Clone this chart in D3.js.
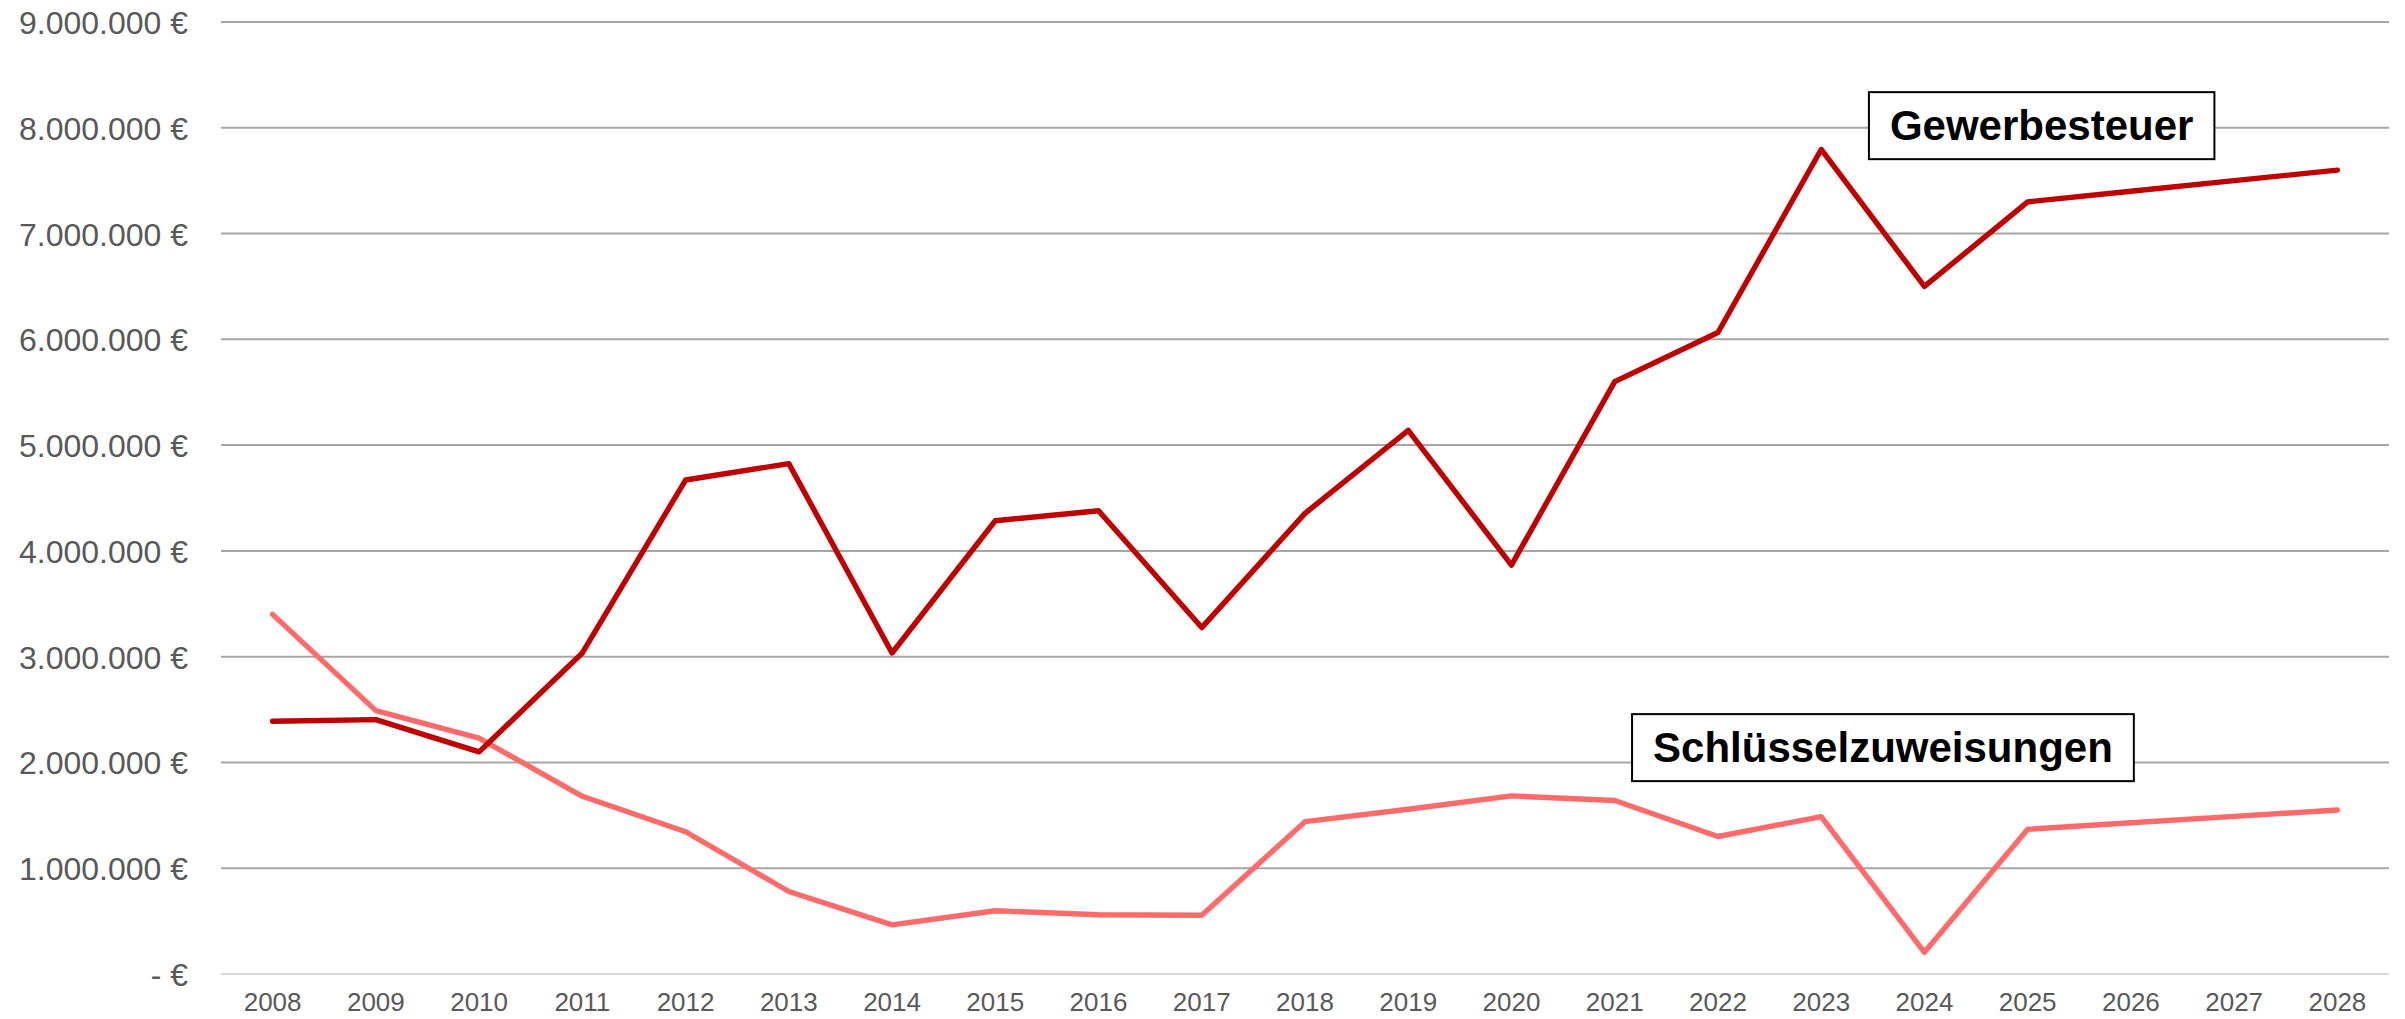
<!DOCTYPE html>
<html>
<head>
<meta charset="utf-8">
<script src="https://cdn.jsdelivr.net/npm/d3@7"></script>
<style>
  html, body { margin: 0; padding: 0; background: #ffffff; }
  svg { display: block; }
</style>
</head>
<body>
<div id="chart"></div>
<script>
// ---- data ----
const years = ["2008","2009","2010","2011","2012","2013","2014","2015","2016","2017","2018","2019","2020","2021","2022","2023","2024","2025","2026","2027","2028"];
const gewerbesteuer = [2390000, 2405000, 2100000, 3035000, 4670000, 4825000, 3035000, 4285000, 4380000, 3275000, 4355000, 5140000, 3865000, 5600000, 6065000, 7795000, 6500000, 7300000, 7400000, 7500000, 7600000];
const schluesselzuweisungen = [3400000, 2490000, 2230000, 1680000, 1345000, 780000, 465000, 598000, 560000, 555000, 1440000, 1557000, 1684000, 1640000, 1300000, 1487000, 205000, 1368000, 1430000, 1490000, 1550000];
const yTicks = [0, 1000000, 2000000, 3000000, 4000000, 5000000, 6000000, 7000000, 8000000, 9000000];
const seriesNames = ["Gewerbesteuer", "Schlüsselzuweisungen"];

// ---- layout ----
const W = 2405, H = 1019;
const plotLeft = 221, plotRight = 2389, plotTop = 22, plotBottom = 974;

const svg = d3.select("#chart").append("svg")
  .attr("width", W).attr("height", H)
  .style("font-family", "'Liberation Sans', Arial, sans-serif");

const x = d3.scaleBand().domain(years).range([plotLeft, plotRight]).paddingInner(0).paddingOuter(0);
const y = d3.scaleLinear().domain([0, 9000000]).range([plotBottom, plotTop]);
const xc = d => x(d) + x.bandwidth() / 2;

const fmt = v => v === 0 ? "- €" : d3.format(",")(v).replace(/,/g, ".") + " €";

// gridlines
svg.append("g").selectAll("line").data(yTicks).join("line")
  .attr("x1", plotLeft).attr("x2", plotRight)
  .attr("y1", d => y(d)).attr("y2", d => y(d))
  .attr("stroke", d => d === 0 ? "#d9d9d9" : "#a6a6a6")
  .attr("stroke-width", 2);

// y axis labels
const yAxis = d3.axisLeft(y).tickValues(yTicks).tickFormat(fmt).tickSize(0).tickPadding(0);
const gy = svg.append("g").attr("transform", `translate(188,0)`).call(yAxis);
gy.select(".domain").remove();
gy.selectAll("text").attr("fill", "#595959").style("font-size", "32px")
  .style("font-family", "'Liberation Sans', Arial, sans-serif").attr("dy", "0.36em");

// x axis labels
const xAxis = d3.axisBottom(x).tickSize(0).tickPadding(0);
const gx = svg.append("g").attr("transform", `translate(0,${plotBottom})`).call(xAxis);
gx.select(".domain").remove();
gx.selectAll("text").attr("fill", "#595959").style("font-size", "26px")
  .style("font-family", "'Liberation Sans', Arial, sans-serif").attr("y", 37).attr("dy", 0);

// lines
const line = d3.line().x((d, i) => xc(years[i])).y(d => y(d));
svg.append("path").datum(schluesselzuweisungen)
  .attr("d", line).attr("fill", "none").attr("stroke", "#FF6B6B")
  .attr("stroke-width", 5.4).attr("stroke-linejoin", "round").attr("stroke-linecap", "round");
svg.append("path").datum(gewerbesteuer)
  .attr("d", line).attr("fill", "none").attr("stroke", "#C00000")
  .attr("stroke-width", 5.4).attr("stroke-linejoin", "round").attr("stroke-linecap", "round");

// labels in boxes
function boxLabel(text, cx, cy) {
  const g = svg.append("g");
  const t = g.append("text").attr("x", cx).attr("y", cy).attr("dy", "0.35em")
    .attr("text-anchor", "middle").attr("font-weight", "bold")
    .style("font-size", "42px").attr("fill", "#000").text(text);
  const bb = t.node().getBBox();
  const padX = 21, h = 67;
  g.insert("rect", "text")
    .attr("x", bb.x - padX).attr("y", cy - h / 2)
    .attr("width", bb.width + 2 * padX).attr("height", h)
    .attr("fill", "#fff").attr("stroke", "#000").attr("stroke-width", 2);
}
boxLabel(seriesNames[0], xc("2025") + 14, y(8020000));
boxLabel(seriesNames[1], xc("2022") + 165, y(2140000));
</script>
</body>
</html>
